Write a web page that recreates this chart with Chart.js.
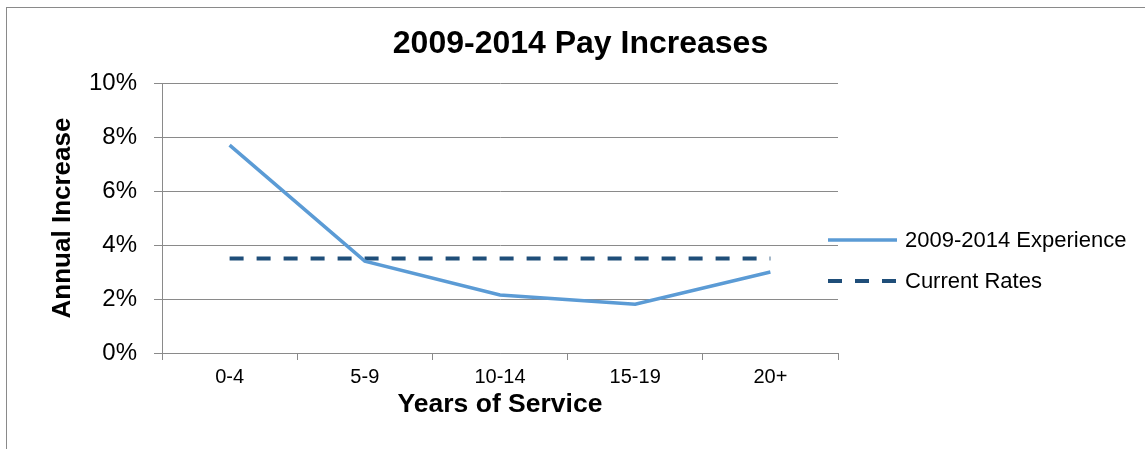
<!DOCTYPE html>
<html>
<head>
<meta charset="utf-8">
<style>
  html, body { margin: 0; padding: 0; background: #ffffff; }
  canvas { display: block; }
</style>
<script src="https://cdn.jsdelivr.net/npm/chart.js@4.4.1/dist/chart.umd.min.js"></script>
</head>
<body>
<canvas id="c" width="1145" height="449"></canvas>
<script>
const categories = ['0-4', '5-9', '10-14', '15-19', '20+'];
const experience = [7.7, 3.4, 2.15, 1.81, 3.0];
const currentRates = [3.5, 3.5, 3.5, 3.5, 3.5];
const yTicks = [0, 2, 4, 6, 8, 10];

const FONT = "'Liberation Sans', Arial, sans-serif";
const GRID = '#8a8a8a';

const frame = {
  id: 'frame',
  afterDraw(chart) {
    const ctx = chart.ctx;
    ctx.save();
    ctx.strokeStyle = GRID;
    ctx.lineWidth = 1;
    ctx.strokeRect(6.5, 7.5, 1300, 600);
    ctx.restore();
  }
};

const sideLegend = {
  id: 'sideLegend',
  afterDraw(chart) {
    const ctx = chart.ctx;
    const area = chart.chartArea;
    const x0 = area.right - 10;
    const len = 69;
    const ys = [240, 281];
    ctx.save();
    chart.data.datasets.forEach((ds, i) => {
      const y = ys[i];
      ctx.beginPath();
      ctx.strokeStyle = ds.borderColor;
      ctx.lineWidth = ds.borderWidth;
      ctx.setLineDash(ds.borderDash || []);
      ctx.lineCap = 'butt';
      ctx.moveTo(x0, y);
      ctx.lineTo(x0 + len, y);
      ctx.stroke();
      ctx.setLineDash([]);
      ctx.fillStyle = '#000';
      ctx.font = '22px ' + FONT;
      ctx.textBaseline = 'middle';
      ctx.textAlign = 'left';
      ctx.fillText(ds.label, x0 + len + 8, y + 1);
    });
    ctx.restore();
  }
};

new Chart(document.getElementById('c'), {
  type: 'line',
  data: {
    labels: categories,
    datasets: [
      {
        label: '2009-2014 Experience',
        data: experience,
        borderColor: '#5B9BD5',
        borderWidth: 3.5,
        pointRadius: 0,
        tension: 0,
        fill: false
      },
      {
        label: 'Current Rates',
        data: currentRates,
        borderColor: '#1F4E79',
        borderWidth: 4,
        borderDash: [14, 13],
        borderCapStyle: 'butt',
        pointRadius: 0,
        tension: 0,
        fill: false
      }
    ]
  },
  options: {
    responsive: false,
    animation: false,
    devicePixelRatio: 1,
    layout: { padding: { left: 16, right: 0, top: 0, bottom: 0 } },
    plugins: {
      legend: { display: false },
      tooltip: { enabled: false },
      title: {
        display: true,
        text: '2009-2014 Pay Increases',
        color: '#000',
        font: { family: FONT, size: 32, weight: 'bold', lineHeight: 1.2 },
        padding: { top: 25.4, bottom: 19.2 }
      }
    },
    scales: {
      x: {
        type: 'category',
        offset: true,
        grid: {
          offset: true,
          drawOnChartArea: false,
          drawTicks: true,
          tickLength: 7,
          color: GRID
        },
        border: { display: true, color: GRID, width: 1 },
        ticks: {
          color: '#000',
          font: { family: FONT, size: 20 },
          padding: 5,
          maxRotation: 0
        },
        title: {
          display: true,
          text: 'Years of Service',
          color: '#000',
          font: { family: FONT, size: 26.5, weight: 'bold', lineHeight: 1.2 },
          padding: { top: 0, bottom: 28.4 }
        },
        afterFit(scale) { scale.height = 96; }
      },
      y: {
        type: 'linear',
        position: 'left',
        min: yTicks[0],
        max: yTicks[yTicks.length - 1],
        afterBuildTicks(scale) { scale.ticks = yTicks.map(v => ({ value: v })); },
        grid: {
          color: GRID,
          drawTicks: true,
          tickLength: 8
        },
        border: { display: true, color: GRID, width: 1 },
        ticks: {
          color: '#000',
          font: { family: FONT, size: 24 },
          padding: 17,
          callback: v => v + '%'
        },
        title: {
          display: true,
          text: 'Annual Increase',
          color: '#000',
          font: { family: FONT, size: 26, weight: 'bold', lineHeight: 1.2 },
          padding: { top: 31.4, bottom: 0 }
        },
        afterFit(scale) { scale.width = 146; }
      },
      pad: {
        type: 'linear',
        position: 'right',
        display: true,
        grid: { display: false, drawTicks: false },
        border: { display: false },
        ticks: { display: false },
        afterFit(scale) { scale.width = 307; }
      }
    }
  },
  plugins: [frame, sideLegend]
});
</script>
</body>
</html>
